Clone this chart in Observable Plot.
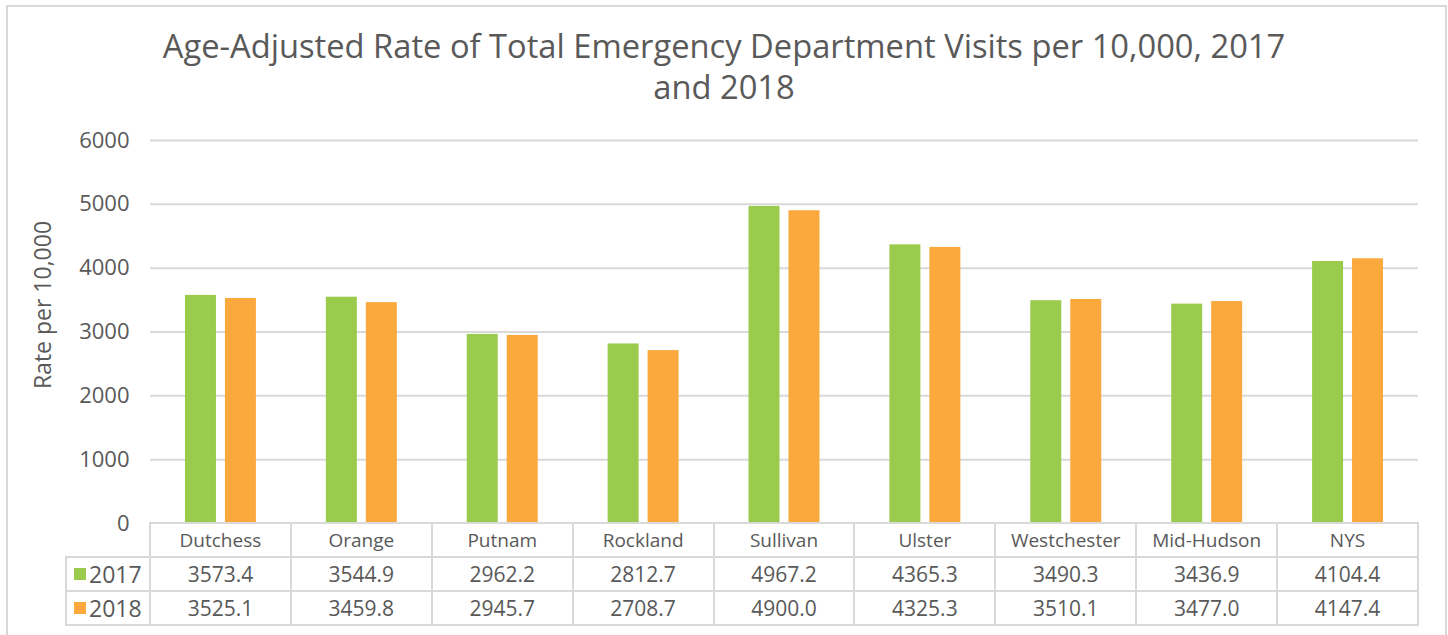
<!DOCTYPE html>
<html>
<head>
<meta charset="utf-8">
<script src="https://cdn.jsdelivr.net/npm/d3@7"></script>
<script src="https://cdn.jsdelivr.net/npm/@observablehq/plot@0.6"></script>
<style>
  html, body { margin: 0; padding: 0; background: #fff; }
  #wrap { position: relative; width: 1448px; height: 635px; overflow: hidden; font-family: "Open Sans", sans-serif; color: #595959; }
  #frame { position: absolute; left: 6px; top: 5px; width: 1441px; height: 700px; border: 2px solid #d9d9d9; box-sizing: border-box; }
  #title { position: absolute; left: 0; top: 25px; width: 1448px; text-align: center; font-size: 32.7px; line-height: 41px; color: #595959; }
  #ylabel { position: absolute; left: 42px; top: 305px; transform: translate(-50%, -50%) rotate(-90deg); font-size: 23px; white-space: nowrap; color: #595959; }
  #chart { position: absolute; left: 0; top: 0; }
  .ln { position: absolute; background: #d9d9d9; }
  .cell { position: absolute; text-align: center; font-size: 19px; color: #595959; line-height: 34px; white-space: nowrap; }
  .num { font-size: 21px; }
</style>
</head>
<body>
<div id="wrap">
  <div id="frame"></div>
  <div id="chart"></div>
  <div id="title">Age-Adjusted Rate of Total Emergency Department Visits per 10,000, 2017<br>and 2018</div>
  <div id="ylabel">Rate per 10,000</div>
</div>
<script>
const categories = ["Dutchess", "Orange", "Putnam", "Rockland", "Sullivan", "Ulster", "Westchester", "Mid-Hudson", "NYS"];
const years = ["2017", "2018"];
const values2017 = [3573.4, 3544.9, 2962.2, 2812.7, 4967.2, 4365.3, 3490.3, 3436.9, 4104.4];
const values2018 = [3525.1, 3459.8, 2945.7, 2708.7, 4900.0, 4325.3, 3510.1, 3477.0, 4147.4];
const colors = ["#9bcb4c", "#fba93c"];
const yTicks = [0, 1000, 2000, 3000, 4000, 5000, 6000];

const data = [];
categories.forEach((c, i) => {
  data.push({category: c, year: "2017", value: values2017[i]});
  data.push({category: c, year: "2018", value: values2018[i]});
});

const chart = Plot.plot({
  width: 1448,
  height: 635,
  marginLeft: 150,
  marginRight: 30,
  marginTop: 140,
  marginBottom: 112,
  style: {fontFamily: "Open Sans, sans-serif", fontSize: "22px", color: "#595959", background: "transparent", overflow: "visible"},
  fx: {domain: categories, padding: 0, round: false, axis: null, label: null},
  x: {domain: years, paddingInner: 0.225, paddingOuter: 0.875, round: false, axis: null},
  y: {domain: [0, 6000], ticks: yTicks, tickSize: 0, tickPadding: 21, tickFormat: d => String(d), label: null},
  color: {domain: years, range: colors},
  marks: [
    Plot.gridY(yTicks.filter(d => d > 0), {stroke: "#d9d9d9", strokeOpacity: 1, strokeWidth: 2}),
    Plot.barY(data, {fx: "category", x: "year", y: "value", fill: "year"})
  ]
});
document.getElementById("chart").appendChild(chart);

// Data table below the plot, positioned using Plot's own scales
const fx = chart.scale("fx");
const ys = chart.scale("y");
const wrap = document.getElementById("wrap");
const y0 = ys.apply(0);
const rowH = 34;
const bw = fx.bandwidth;
const left = fx.apply(categories[0]);
const right = fx.apply(categories[categories.length - 1]) + bw;
const legendLeft = 66;
const lw = 2;

function line(x, y, w, h) {
  const d = document.createElement("div");
  d.className = "ln";
  d.style.left = x + "px"; d.style.top = y + "px";
  d.style.width = w + "px"; d.style.height = h + "px";
  wrap.appendChild(d);
}
function cell(x, y, w, text, cls) {
  const d = document.createElement("div");
  d.className = "cell" + (cls ? " " + cls : "");
  d.style.left = x + "px"; d.style.top = y + "px"; d.style.width = w + "px";
  d.textContent = text;
  wrap.appendChild(d);
  return d;
}
// horizontal lines
line(left - 1, y0 - 1, right - left + 2, lw);
for (let r = 1; r <= 3; r++) line(legendLeft - 1, y0 + r * rowH - 1, right - legendLeft + 2, lw);
// vertical lines
line(legendLeft - 1, y0 + rowH - 1, lw, 2 * rowH + 2);
categories.forEach(c => line(fx.apply(c) - 1, y0 - 1, lw, 3 * rowH + 2));
line(right - 1, y0 - 1, lw, 3 * rowH + 2);

const fmt = d3.format(".1f");
categories.forEach((c, i) => {
  const x = fx.apply(c);
  cell(x, y0, bw, c);
  cell(x, y0 + rowH, bw, fmt(values2017[i]), "num");
  cell(x, y0 + 2 * rowH, bw, fmt(values2018[i]), "num");
});
// legend keys in the table
years.forEach((yr, k) => {
  const sw = document.createElement("div");
  sw.style.position = "absolute";
  sw.style.left = (legendLeft + 8) + "px";
  sw.style.top = (y0 + (k + 1) * rowH + 11) + "px";
  sw.style.width = "12px"; sw.style.height = "12px";
  sw.style.background = colors[k];
  wrap.appendChild(sw);
  const t = cell(legendLeft + 23, y0 + (k + 1) * rowH, 70, yr, "num");
  t.style.textAlign = "left";
  t.style.fontSize = "23px";
});
</script>
</body>
</html>
